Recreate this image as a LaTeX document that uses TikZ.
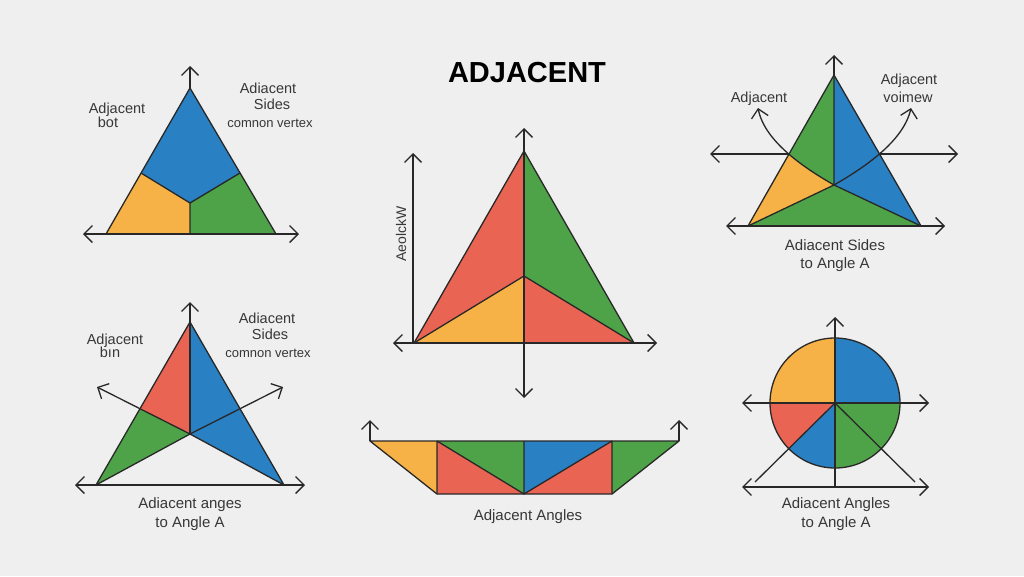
\documentclass[tikz,border=0pt]{standalone}
\usepackage{fontspec}
\setmainfont{Liberation Sans}
\usetikzlibrary{arrows.meta}
\definecolor{cblue}{RGB}{41,128,194}
\definecolor{cgreen}{RGB}{78,163,72}
\definecolor{corange}{RGB}{246,178,70}
\definecolor{cred}{RGB}{234,100,84}
\definecolor{ink}{RGB}{40,40,40}
\definecolor{txt}{RGB}{55,55,55}
\definecolor{bg}{RGB}{239,239,239}
\begin{document}
\begin{tikzpicture}[x=1pt,y=-1pt,line join=round,
  ln/.style={draw=ink,line width=1.3pt},
  arr/.style={ln,-{Straight Barb[length=8.5pt,width=17pt]}},
  darr/.style={ln,{Straight Barb[length=8.5pt,width=17pt]}-{Straight Barb[length=8.5pt,width=17pt]}},
  lbl/.style={text=txt,font=\fontsize{14.5}{16}\selectfont,inner sep=0pt,anchor=base},
  slbl/.style={text=txt,font=\fontsize{13}{15}\selectfont,inner sep=0pt,anchor=base},
  blbl/.style={text=txt,font=\fontsize{15}{17}\selectfont,inner sep=0pt,anchor=base}]
\fill[bg] (0,0) rectangle (1024,576);
\useasboundingbox (0,0) rectangle (1024,576);

% title
\node[inner sep=0pt,anchor=base,font=\fontsize{29}{32}\selectfont\bfseries] (title) at (527,82) {ADJACENT};

% ---------- panel 1 ----------
\coordinate (A1) at (190,88); \coordinate (L1) at (106,234); \coordinate (R1) at (276,234);
\coordinate (P1l) at (141,173); \coordinate (P1r) at (240,173);
\coordinate (C1) at (190,203); \coordinate (M1) at (190,234);
\fill[cblue] (A1) -- (P1l) -- (C1) -- (P1r) -- cycle;
\fill[corange] (P1l) -- (L1) -- (M1) -- (C1) -- cycle;
\fill[cgreen] (C1) -- (M1) -- (R1) -- (P1r) -- cycle;
\draw[ln] (A1) -- (L1) -- (R1) -- cycle;
\draw[ln] (P1l) -- (C1) -- (P1r) (C1) -- (M1);
\coordinate (X1a) at (83,234); \coordinate (X1b) at (299,234); \coordinate (U1) at (190,66);
\draw[darr] (X1a) -- (X1b);
\draw[arr] (A1) -- (U1);
\node[lbl] (t1a) at (117,113) {Adjacent};
\node[lbl] (t1b) at (108,127) {bot};
\node[lbl] (t1c) at (268,93) {Adiacent};
\node[lbl] (t1d) at (272,109) {Sides};
\node[slbl] (t1e) at (270,127) {comnon vertex};

% ---------- panel 2 ----------
\coordinate (A2) at (190,322); \coordinate (L2) at (96,485); \coordinate (R2) at (284,485);
\coordinate (C2) at (190,434); \coordinate (J2l) at (140,409);
\fill[cred] (A2) -- (J2l) -- (C2) -- cycle;
\fill[cgreen] (J2l) -- (L2) -- (C2) -- cycle;
\fill[cblue] (A2) -- (R2) -- (C2) -- cycle;
\draw[ln] (A2) -- (L2) -- (C2) -- (R2) -- cycle;
\draw[ln] (A2) -- (C2);
\coordinate (E2l) at (97,387); \coordinate (E2r) at (283,387);
\coordinate (X2a) at (75,485); \coordinate (X2b) at (305,485); \coordinate (U2) at (190,302);
\draw[arr] (C2) -- (E2l);
\draw[arr] (C2) -- (E2r);
\draw[darr] (X2a) -- (X2b);
\draw[arr] (A2) -- (U2);
\node[lbl] (t2a) at (115,344) {Adjacent};
\node[lbl] (t2b) at (110,357) {bın};
\node[lbl] (t2c) at (267,323) {Adiacent};
\node[lbl] (t2d) at (270,339) {Sides};
\node[slbl] (t2e) at (268,357) {comnon vertex};
\node[blbl] (t2f) at (190,508) {Adiacent anges};
\node[blbl] (t2g) at (190,527) {to Angle A};

% ---------- panel 3 ----------
\coordinate (A3) at (524,151); \coordinate (L3) at (414,343); \coordinate (R3) at (634,343);
\coordinate (C3) at (524,276); \coordinate (M3) at (524,343);
\fill[cred] (A3) -- (L3) -- (C3) -- cycle;
\fill[corange] (L3) -- (M3) -- (C3) -- cycle;
\fill[cred] (C3) -- (M3) -- (R3) -- cycle;
\fill[cgreen] (A3) -- (R3) -- (C3) -- cycle;
\draw[ln] (A3) -- (L3) -- (R3) -- cycle;
\draw[ln] (L3) -- (C3) -- (R3);
\coordinate (V3a) at (524,128); \coordinate (V3b) at (524,398);
\coordinate (X3a) at (393,343); \coordinate (X3b) at (657,343);
\coordinate (W3a) at (413,343); \coordinate (W3b) at (413,153);
\draw[darr] (V3b) -- (V3a);
\draw[darr] (X3a) -- (X3b);
\draw[arr] (W3a) -- (W3b);
\node[text=txt,font=\fontsize{14}{16}\selectfont,inner sep=0pt,rotate=90] (t3a) at (401,234) {AeolckW};

% ---------- panel 4 ----------
\coordinate (T1) at (370,441); \coordinate (T2) at (437,441); \coordinate (T3) at (524,441);
\coordinate (T4) at (612,441); \coordinate (T5) at (679,441);
\coordinate (B2) at (437,494); \coordinate (B3) at (524,494); \coordinate (B4) at (612,494);
\fill[corange] (T1) -- (T2) -- (B2) -- cycle;
\fill[cgreen] (T2) -- (T3) -- (B3) -- cycle;
\fill[cred] (T2) -- (B3) -- (B2) -- cycle;
\fill[cblue] (T3) -- (T4) -- (B3) -- cycle;
\fill[cred] (B3) -- (B4) -- (T4) -- cycle;
\fill[cgreen] (T4) -- (T5) -- (B4) -- cycle;
\draw[ln] (T1) -- (T5) -- (B4) -- (B2) -- cycle;
\draw[ln] (T2) -- (B2) (T3) -- (B3) (T4) -- (B4) (T2) -- (B3) -- (T4);
\coordinate (U4a) at (370,420); \coordinate (U4b) at (679,420);
\draw[arr] (T1) -- (U4a);
\draw[arr] (T5) -- (U4b);
\node[blbl] (t4a) at (528,520) {Adjacent Angles};

% ---------- panel 5 ----------
\coordinate (A5) at (834,75); \coordinate (L5) at (748,226); \coordinate (R5) at (921,226);
\coordinate (C5) at (834,185); \coordinate (J5l) at (789,154); \coordinate (J5r) at (880,154);
\fill[cgreen] (A5) -- (L5) -- (R5) -- cycle;
\fill[corange] (J5l) -- (L5) -- (C5) .. controls (821,177.5) and (803.75,167) .. (J5l) -- cycle;
\fill[cblue] (A5) -- (R5) -- (C5) -- cycle;
\draw[ln] (A5) -- (L5) -- (R5) -- cycle;
\draw[ln] (A5) -- (C5) (L5) -- (C5) -- (R5);
\coordinate (K5l) at (758,108); \coordinate (K5r) at (911,108);
\draw[arr] (C5) .. controls (808,170) and (765,143) .. (K5l);
\draw[arr] (C5) .. controls (860,170) and (903,143) .. (K5r);
\coordinate (H5a) at (710,154); \coordinate (H5b) at (958,154);
\coordinate (X5a) at (726,226); \coordinate (X5b) at (945,226); \coordinate (U5) at (834,55);
\draw[arr] (J5l) -- (H5a);
\draw[arr] (J5r) -- (H5b);
\draw[darr] (X5a) -- (X5b);
\draw[arr] (A5) -- (U5);
\node[lbl] (t5a) at (759,102) {Adjacent};
\node[lbl] (t5b) at (909,84) {Adjacent};
\node[lbl] (t5c) at (908,102) {voimew};
\node[blbl] (t5d) at (835,250) {Adiacent Sides};
\node[blbl] (t5e) at (835,268) {to Angle A};

% ---------- panel 6 ----------
\coordinate (C6) at (835,403);
\begin{scope}
\clip (C6) circle[radius=65];
\fill[cblue] (835,403) -- (905,403) -- (905,333) -- (835,333) -- cycle;
\fill[corange] (835,403) -- (765,403) -- (765,333) -- (835,333) -- cycle;
\fill[cred] (835,403) -- (765,403) -- (765,473) -- cycle;
\fill[cblue] (835,403) -- (765,473) -- (835,473) -- cycle;
\fill[cgreen] (835,403) -- (835,473) -- (905,473) -- (905,403) -- cycle;
\end{scope}
\draw[ln] (C6) circle[radius=65];
\coordinate (V6a) at (835,317); \coordinate (V6b) at (835,487);
\coordinate (X6a) at (742,403); \coordinate (X6b) at (929,403);
\coordinate (Y6a) at (742,487); \coordinate (Y6b) at (929,487);
\coordinate (D6l) at (755,482); \coordinate (D6r) at (915,482);
\draw[arr] (V6b) -- (V6a);
\draw[darr] (X6a) -- (X6b);
\draw[darr] (Y6a) -- (Y6b);
\draw[ln] (C6) -- (D6l) (C6) -- (D6r);
\node[blbl] (t6a) at (836,508) {Adiacent Angles};
\node[blbl] (t6b) at (836,527) {to Angle A};
\end{tikzpicture}
\end{document}
